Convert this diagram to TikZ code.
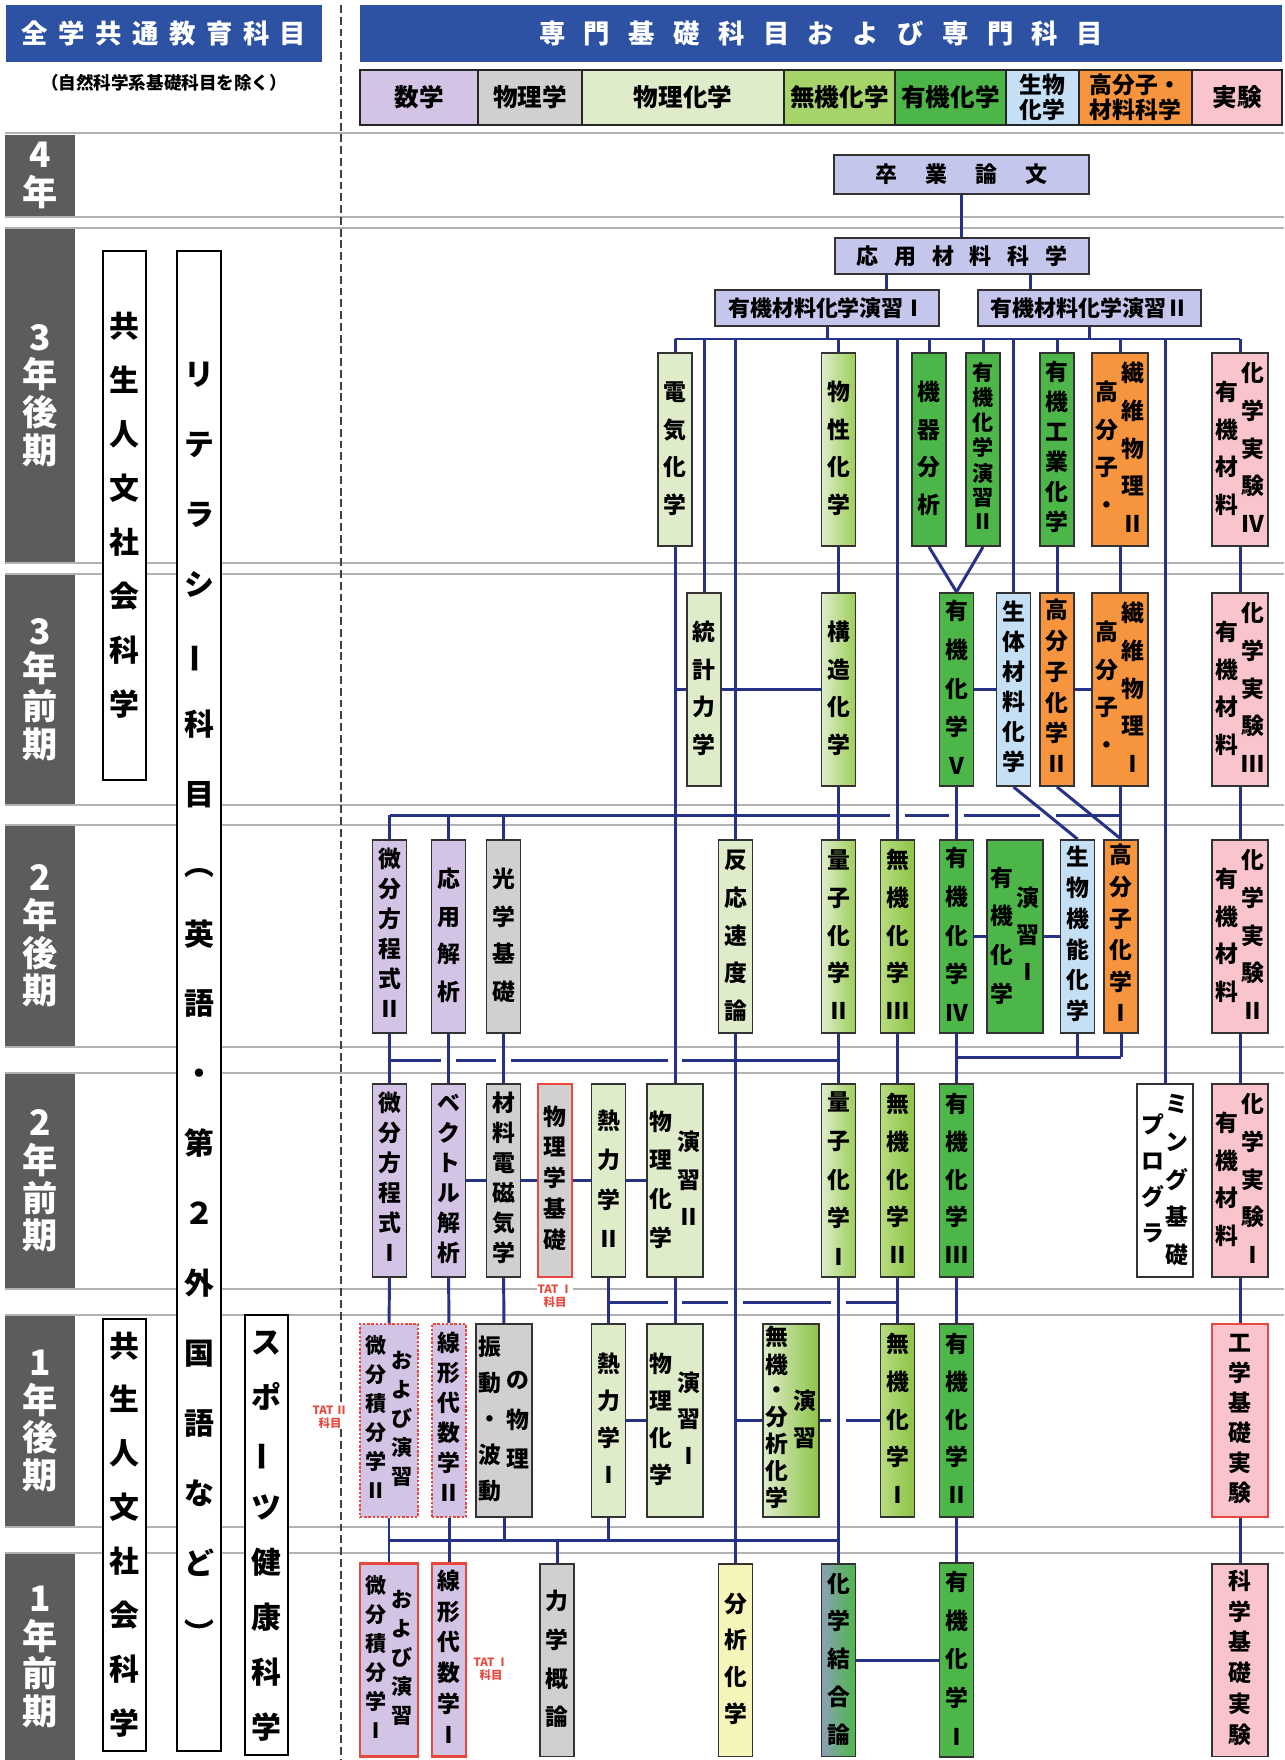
\documentclass[tikz,border=0pt]{standalone}
\usepackage{fontspec}
\setmainfont{Noto Sans CJK JP}
\usetikzlibrary{backgrounds}

\definecolor{hdblue}{RGB}{46,82,163}
\definecolor{lnblue}{RGB}{38,50,135}
\definecolor{cMat}{RGB}{211,196,230}
\definecolor{cPhy}{RGB}{208,208,208}
\definecolor{cPch}{RGB}{222,236,202}
\definecolor{cPgr}{RGB}{156,206,88}
\definecolor{cInL}{RGB}{184,220,128}
\definecolor{cInR}{RGB}{140,196,70}
\definecolor{cInorg}{RGB}{166,211,106}
\definecolor{cOrg}{RGB}{76,183,72}
\definecolor{cBio}{RGB}{197,224,244}
\definecolor{cPoly}{RGB}{247,148,62}
\definecolor{cExp}{RGB}{249,196,203}
\definecolor{cTop}{RGB}{197,198,236}
\definecolor{cAna}{RGB}{246,245,185}
\definecolor{cBnd}{RGB}{140,160,182}
\definecolor{cRed}{RGB}{233,72,62}
\definecolor{cYear}{RGB}{92,92,92}

\newcommand\vstk[3][13]{{\bfseries\fontsize{#1}{#2}\selectfont\begin{tabular}[c]{@{}c@{}}#3\end{tabular}}}
\newcommand\vbar{\rotatebox[origin=c]{90}{ー}}
\newcommand\hgp[1]{\hspace{#1pt}}

\tikzset{
  conn/.style={draw=lnblue, line width=1.7pt},
  rowline/.style={draw=gray!60, line width=1.1pt},
  sbox/.style={draw=black!80, line width=1.1pt, inner sep=0pt, minimum width=0.68cm, minimum height=3.86cm},
  wbox/.style={sbox, minimum width=1.12cm},
  mat/.style={fill=cMat}, phy/.style={fill=cPhy}, pch/.style={fill=cPch},
  pgr/.style={left color=cPch, right color=cPgr},
  inorg/.style={left color=cInL, right color=cInR},
  org/.style={fill=cOrg}, bio/.style={fill=cBio}, poly/.style={fill=cPoly}, expt/.style={fill=cExp},
  redb/.style={draw=cRed, line width=1.4pt},
  redd/.style={draw=cRed, line width=1.4pt, densely dotted},
  topbox/.style={draw=black!80, line width=1.1pt, fill=cTop, inner sep=0pt, minimum height=0.72cm, font=\bfseries\fontsize{12.5}{15}\selectfont},
  yearlbl/.style={fill=cYear, text=white, inner sep=0pt, minimum width=1.4cm, align=center, font=\bfseries\fontsize{20}{21.5}\selectfont},
  lbox/.style={draw=black, line width=1.1pt, fill=white, inner sep=0pt, minimum width=0.86cm},
  catbox/.style={draw=black!85, line width=1.1pt, inner sep=0pt, minimum height=1.1cm, align=center, font=\bfseries\fontsize{14}{15}\selectfont},
  hdr/.style={fill=hdblue, text=white, inner sep=0pt, minimum height=1.14cm, font=\bfseries\fontsize{15}{17}\selectfont},
  tatlbl/.style={text=cRed, fill=white, inner sep=0.6pt, align=center, font=\bfseries\fontsize{6.5}{7.5}\selectfont},
}

\begin{document}
\begin{tikzpicture}[x=0.02cm,y=-0.02cm]
\useasboundingbox (0,0) rectangle (1284,1760);

\node[hdr, minimum width=6.32cm] (hdL) at (164,33.5) {全\hgp6学\hgp6共\hgp6通\hgp6教\hgp6育\hgp6科\hgp6目};
\node[hdr, minimum width=18.44cm] (hdR) at (821,33.5) {専\hgp{10.5}門\hgp{10.5}基\hgp{10.5}礎\hgp{10.5}科\hgp{10.5}目\hgp{10.5}お\hgp{10.5}よ\hgp{10.5}び\hgp{10.5}専\hgp{10.5}門\hgp{10.5}科\hgp{10.5}目};
\node[font=\bfseries\fontsize{10}{12}\selectfont, inner sep=0pt] (sub) at (164,83) {（自然科学系基礎科目を除く）};

\node[catbox, fill=cMat, minimum width=2.36cm] (cm1) at (419,97.5) {数学};
\node[catbox, fill=cPhy, minimum width=2.08cm] (cm2) at (530,97.5) {物理学};
\node[catbox, fill=cPch, minimum width=4.04cm] (cm3) at (683,97.5) {物理化学};
\node[catbox, fill=cInorg, minimum width=2.22cm] (cm4) at (839.5,97.5) {無機化学};
\node[catbox, fill=cOrg, minimum width=2.22cm] (cm5) at (950.5,97.5) {有機化学};
\node[catbox, fill=cBio, minimum width=1.46cm, font=\bfseries\fontsize{13}{14}\selectfont] (cm6) at (1042.5,97.5) {生物\\化学};
\node[catbox, fill=cPoly, minimum width=2.26cm, font=\bfseries\fontsize{13}{14}\selectfont] (cm7) at (1135.5,97.5) {高分子・\\材料科学};
\node[catbox, fill=cExp, minimum width=1.8cm] (cm8) at (1237,97.5) {実験};

\node[yearlbl, minimum height=1.62cm] (yr4) at (40,175.5) {4\\年};
\node[yearlbl, minimum height=6.66cm] (yr3b) at (40,395.5) {3\\年\\後\\期};
\node[yearlbl, minimum height=4.58cm] (yr3a) at (40,689.5) {3\\年\\前\\期};
\node[yearlbl, minimum height=4.4cm] (yr2b) at (40,936) {2\\年\\後\\期};
\node[yearlbl, minimum height=4.28cm] (yr2a) at (40,1181) {2\\年\\前\\期};
\node[yearlbl, minimum height=4.2cm] (yr1b) at (40,1421) {1\\年\\後\\期};
\node[yearlbl, minimum height=4.12cm] (yr1a) at (40,1657) {1\\年\\前\\期};

\node[lbox, minimum height=10.58cm] (kyo1) at (124.5,515.5) {\vstk[17]{30.7}{共\\生\\人\\文\\社\\会\\科\\学}};
\node[lbox, minimum width=0.88cm, minimum height=30cm] (lit) at (199,1001) {\vstk[17]{39.8}{リ\\テ\\ラ\\シ\\\vbar\\科\\目\\︵\\英\\語\\・\\第\\２\\外\\国\\語\\な\\ど\\︶}};
\node[lbox, minimum height=8.64cm] (kyo2) at (124.5,1535) {\vstk[17]{30.7}{共\\生\\人\\文\\社\\会\\科\\学}};
\node[lbox, minimum height=8.64cm] (spo) at (266.5,1535) {\vstk[17]{31.3}{ス\\ポ\\\vbar\\ツ\\健\\康\\科\\学}};

\node[topbox, minimum width=5.1cm, minimum height=0.78cm] (sotsu) at (961.5,174.5) {卒\hgp{16}業\hgp{16}論\hgp{16}文};
\node[topbox, minimum width=5.08cm] (ouyouzai) at (962,256) {応\hgp9用\hgp9材\hgp9料\hgp9科\hgp9学};
\node[topbox, minimum width=4.48cm] (en1) at (827,308) {有機材料化学演習Ⅰ};
\node[topbox, minimum width=4.46cm] (en2) at (1089.5,308) {有機材料化学演習Ⅱ};

% 3年後期
\node[sbox,pch] (denki) at (675,449.5) {\vstk{21.5}{電\\気\\化\\学}};
\node[sbox,pgr] (bussei) at (838.5,449.5) {\vstk{21.5}{物\\性\\化\\学}};
\node[sbox,org] (kiki) at (929,449.5) {\vstk{21.5}{機\\器\\分\\析}};
\node[sbox,org] (yuen2) at (983,449.5) {\vstk[12]{13.7}{有\\機\\化\\学\\演\\習\\Ⅱ}};
\node[sbox,org] (yukou) at (1057,449.5) {\vstk{17}{有\\機\\工\\業\\化\\学}};
\node[wbox,poly] (sen2) at (1120,449.5) {\vstk{21.5}{高\\分\\子\\・}\hspace{2pt}\vstk{21.5}{繊\\維\\物\\理\\Ⅱ}};
\node[wbox,expt] (jik4) at (1240,449.5) {\vstk{21.5}{有\\機\\材\\料}\hspace{2pt}\vstk{21.5}{化\\学\\実\\験\\Ⅳ}};

% 3年前期
\node[sbox,pch] (touke) at (704,689.5) {\vstk{21.5}{統\\計\\力\\学}};
\node[sbox,pgr] (kouzou) at (838.5,689.5) {\vstk{21.5}{構\\造\\化\\学}};
\node[sbox,org] (yuki5) at (956.5,689.5) {\vstk{22}{有\\機\\化\\学\\Ⅴ}};
\node[sbox,bio] (seitai) at (1013.5,689.5) {\vstk{17}{生\\体\\材\\料\\化\\学}};
\node[sbox,poly] (kobun2) at (1057,689.5) {\vstk{17.5}{高\\分\\子\\化\\学\\Ⅱ}};
\node[wbox,poly] (sen1) at (1120,689.5) {\vstk{21.5}{高\\分\\子\\・}\hspace{2pt}\vstk{21.5}{繊\\維\\物\\理\\Ⅰ}};
\node[wbox,expt] (jik3) at (1240,689.5) {\vstk{21.5}{有\\機\\材\\料}\hspace{2pt}\vstk{21.5}{化\\学\\実\\験\\Ⅲ}};

% 2年後期
\node[sbox,mat] (bibun2) at (389.5,936.5) {\vstk{17}{微\\分\\方\\程\\式\\Ⅱ}};
\node[sbox,mat] (ouyou) at (448.5,936.5) {\vstk{21.5}{応\\用\\解\\析}};
\node[sbox,phy] (kougaku) at (503.5,936.5) {\vstk{21.5}{光\\学\\基\\礎}};
\node[sbox,pch] (hannou) at (735.5,936.5) {\vstk{21.5}{反\\応\\速\\度\\論}};
\node[sbox,pgr] (ryoshi2) at (838.5,936.5) {\vstk{21.5}{量\\子\\化\\学\\Ⅱ}};
\node[sbox,inorg] (muki3) at (897.5,936.5) {\vstk{21.5}{無\\機\\化\\学\\Ⅲ}};
\node[sbox,org] (yuki4) at (956.5,936.5) {\vstk{22}{有\\機\\化\\学\\Ⅳ}};
\node[wbox,org] (yuen1) at (1015,936.5) {\vstk{22}{有\\機\\化\\学}\hspace{2pt}\vstk{21}{演\\習\\Ⅰ}};
\node[sbox,bio] (seibutu) at (1077.5,936.5) {\vstk{17.5}{生\\物\\機\\能\\化\\学}};
\node[sbox,poly] (kobun1) at (1121,936.5) {\vstk{18}{高\\分\\子\\化\\学\\Ⅰ}};
\node[wbox,expt] (jik2) at (1240,936.5) {\vstk{21.5}{有\\機\\材\\料}\hspace{2pt}\vstk{21.5}{化\\学\\実\\験\\Ⅱ}};

% 2年前期
\node[sbox,mat] (bibun1) at (389.5,1180.5) {\vstk{17}{微\\分\\方\\程\\式\\Ⅰ}};
\node[sbox,mat] (vector) at (448.5,1180.5) {\vstk{17}{ベ\\ク\\ト\\ル\\解\\析}};
\node[sbox,phy] (denji) at (503.5,1180.5) {\vstk{17}{材\\料\\電\\磁\\気\\学}};
\node[sbox,phy,redb] (butsuki) at (555,1180.5) {\vstk{17.5}{物\\理\\学\\基\\礎}};
\node[sbox,pch] (netsu2) at (608.5,1180.5) {\vstk{22.5}{熱\\力\\学\\Ⅱ}};
\node[wbox,pch] (buen2) at (675,1180.5) {\vstk{22}{物\\理\\化\\学}\hspace{2.5pt}\vstk{21.5}{演\\習\\Ⅱ}};
\node[sbox,pgr] (ryoshi1) at (838.5,1180.5) {\vstk{22}{量\\子\\化\\学\\Ⅰ}};
\node[sbox,inorg] (muki2) at (897.5,1180.5) {\vstk{21.5}{無\\機\\化\\学\\Ⅱ}};
\node[sbox,org] (yuki3) at (956.5,1180.5) {\vstk{21.5}{有\\機\\化\\学\\Ⅲ}};
\node[wbox,fill=white] (prog) at (1165,1180.5) {\vstk{20.5}{プ\\ロ\\グ\\ラ}\hspace{1pt}\vstk{21.5}{ミ\\ン\\グ\\基\\礎}};
\node[wbox,expt] (jik1) at (1240,1180.5) {\vstk{21.5}{有\\機\\材\\料}\hspace{2pt}\vstk{21.5}{化\\学\\実\\験\\Ⅰ}};

% 1年後期
\node[sbox,mat,redd,minimum width=1.16cm] (sekibun2) at (389,1420.5) {\vstk[12]{16.5}{微\\分\\積\\分\\学\\Ⅱ}\hspace{3pt}\vstk[12]{16.5}{お\\よ\\び\\演\\習}};
\node[sbox,mat,redd] (senkei2) at (449,1420.5) {\vstk{17}{線\\形\\代\\数\\学\\Ⅱ}};
\node[wbox,phy] (shindou) at (504,1420.5) {\vstk{20.5}{振\\動\\・\\波\\動}\hspace{3pt}\vstk{22.5}{の\\物\\理}};
\node[sbox,pch] (netsu1) at (608.5,1420.5) {\vstk{21}{熱\\力\\学\\Ⅰ}};
\node[wbox,pch] (buen1) at (675,1420.5) {\vstk{21}{物\\理\\化\\学}\hspace{2.5pt}\vstk{21}{演\\習\\Ⅰ}};
\node[wbox,left color=cPch,right color=cInR] (mukibun) at (791,1420.5) {\vstk{14.5}{無\\機\\・\\分\\析\\化\\学}\hspace{2.5pt}\vstk{21}{演\\習}};
\node[sbox,inorg] (muki1) at (897.5,1420.5) {\vstk{21.5}{無\\機\\化\\学\\Ⅰ}};
\node[sbox,org] (yuki2) at (956.5,1420.5) {\vstk{21.5}{有\\機\\化\\学\\Ⅱ}};
\node[wbox,expt,redb] (kougakuj) at (1240,1420.5) {\vstk{17}{工\\学\\基\\礎\\実\\験}};

% 1年前期
\node[sbox,mat,redb,minimum width=1.16cm] (sekibun1) at (389,1660) {\vstk[12]{16.5}{微\\分\\積\\分\\学\\Ⅰ}\hspace{3pt}\vstk[12]{16.5}{お\\よ\\び\\演\\習}};
\node[sbox,mat,redb] (senkei1) at (449,1660) {\vstk{17.5}{線\\形\\代\\数\\学\\Ⅰ}};
\node[sbox,phy] (rikigaku) at (557,1660) {\vstk{22}{力\\学\\概\\論}};
\node[sbox,fill=cAna] (bunseki) at (735.5,1660) {\vstk{21}{分\\析\\化\\学}};
\node[sbox,left color=cBnd,right color=cOrg] (ketsugou) at (838.5,1660) {\vstk{21.5}{化\\学\\結\\合\\論}};
\node[sbox,org] (yuki1) at (956.5,1660) {\vstk{22}{有\\機\\化\\学\\Ⅰ}};
\node[wbox,expt] (kagakuj) at (1240,1660) {\vstk{17.5}{科\\学\\基\\礎\\実\\験}};

\node[tatlbl] (tat1) at (555,1296) {TAT Ⅰ\\科目};
\node[tatlbl] (tat2) at (330,1417) {TAT Ⅱ\\科目};
\node[tatlbl] (tat3) at (491,1669) {TAT Ⅰ\\科目};

\coordinate (b3) at (0,339);
\coordinate (b2) at (0,815);
\coordinate (b21) at (0,1060);
\coordinate (b21r) at (0,1057);
\coordinate (b1) at (0,1302);
\coordinate (b0) at (0,1540);
\coordinate (ua) at (886,0);
\coordinate (ub) at (1030,0);

\begin{scope}[on background layer]
\fill[white] (0,0) rectangle (1284,1760);
\foreach \yy in {133,217,228,563,574,805,825,1047,1073,1289,1315,1527,1553}
  \draw[rowline] (5,\yy) -- (1284,\yy);
\draw[black!75, line width=1.3pt, dash pattern=on 4.5pt off 2.2pt] (341,5) -- (341,1760);

\draw[conn] (sotsu.south) -- (sotsu.south |- ouyouzai.north);
\draw[conn] (ua |- ouyouzai.south) -- (ua |- en1.north);
\draw[conn] (ub |- ouyouzai.south) -- (ub |- en2.north);
\draw[conn] (en1.south) -- (en1.south |- b3);
\draw[conn] (en2.south) -- (en2.south |- b3);
\draw[conn] (denki.north |- b3) -- (jik4.north |- b3);
\foreach \nm in {denki,bussei,kiki,yuen2,yukou,sen2,jik4,touke,hannou,muki3,seitai,prog}
  \draw[conn] (\nm.north) -- (\nm.north |- b3);

\draw[conn] (denki.south) -- (denki.south |- buen2.north);
\draw[conn] (touke.west -| denki.south) -- (touke.west);
\draw[conn] (touke) -- (kouzou);
\draw[conn] (bussei) -- (kouzou);
\draw[conn] (kiki.south) -- (yuki5.north);
\draw[conn] (yuen2.south) -- (yuki5.north);
\draw[conn] (yuki5) -- (seitai);
\draw[conn] (yukou) -- (kobun2);
\draw[conn] (kobun2) -- (sen1);
\draw[conn] (sen2) -- (sen1);
\draw[conn] (jik4) -- (jik3);
\draw[conn] (jik3) -- (jik2);
\draw[conn] (jik2) -- (jik1);
\draw[conn] (jik1) -- (kougakuj);
\draw[conn] (kougakuj) -- (kagakuj);

\draw[conn] (kouzou) -- (ryoshi2);
\draw[conn] (yuki5) -- (yuki4);
\draw[conn] (seitai.south) -- (seibutu.north);
\draw[conn] (kobun2.south) -- (kobun1.north);
\draw[conn] (sen1.south) -- (sen1.south |- kobun1.north);
\draw[conn] (bibun2.north |- b2) -- (890,815);
\draw[conn] (905,815) -- (949,815);
\draw[conn] (964,815) -- (1040,815);
\draw[conn] (1056,815) -- (sen1.south |- b2);
\foreach \nm in {bibun2,ouyou,kougaku}
  \draw[conn] (\nm.north) -- (\nm.north |- b2);

\draw[conn] (bibun2) -- (bibun1);
\draw[conn] (ouyou) -- (vector);
\draw[conn] (kougaku) -- (denji);
\draw[conn] (hannou) -- (bunseki);
\draw[conn] (ryoshi2) -- (ryoshi1);
\draw[conn] (muki3) -- (muki2);
\draw[conn] (yuki4) -- (yuki3);
\draw[conn] (yuki4) -- (yuen1);
\draw[conn] (yuen1) -- (seibutu);
\draw[conn] (bibun2.south |- b21) -- (441,1060);
\draw[conn] (456,1060) -- (496,1060);
\draw[conn] (511,1060) -- (668,1060);
\draw[conn] (682,1060) -- (ryoshi2.south |- b21);
\draw[conn] (yuki4.south |- b21r) -- (kobun1.south |- b21r);
\draw[conn] (seibutu.south) -- (seibutu.south |- b21r);
\draw[conn] (kobun1.south) -- (kobun1.south |- b21r);

\draw[conn] (vector) -- (denji);
\draw[conn] (denji) -- (butsuki);
\draw[conn] (butsuki) -- (netsu2);
\draw[conn] (netsu2) -- (buen2);

\draw[conn] (bibun1) -- (sekibun2);
\draw[conn] (vector) -- (senkei2);
\draw[conn] (denji) -- (shindou);
\draw[conn] (netsu2) -- (netsu1);
\draw[conn] (buen2) -- (buen1);
\draw[conn] (ryoshi1) -- (ketsugou);
\draw[conn] (muki2) -- (muki1);
\draw[conn] (yuki3) -- (yuki2);
\draw[conn] (netsu2.south |- b1) -- (668,1302);
\draw[conn] (682,1302) -- (728,1302);
\draw[conn] (743,1302) -- (831,1302);
\draw[conn] (846,1302) -- (muki2.south |- b1);

\draw[conn] (netsu1) -- (buen1);
\draw[conn] (mukibun.west -| hannou.south) -- (mukibun.west);
\draw[conn] (mukibun.east) -- (831,1420.5);
\draw[conn] (846,1420.5) -- (muki1.west);

\draw[conn] (sekibun2.south |- b0) -- (ketsugou.north |- b0);
\draw[conn] (sekibun2) -- (sekibun1);
\draw[conn] (senkei2) -- (senkei1);
\draw[conn] (shindou.south) -- (shindou.south |- b0);
\draw[conn] (netsu1.south) -- (netsu1.south |- b0);
\draw[conn] (rikigaku.north) -- (rikigaku.north |- b0);
\draw[conn] (yuki2) -- (yuki1);
\draw[conn] (ketsugou) -- (yuki1);
\end{scope}
\end{tikzpicture}
\end{document}
